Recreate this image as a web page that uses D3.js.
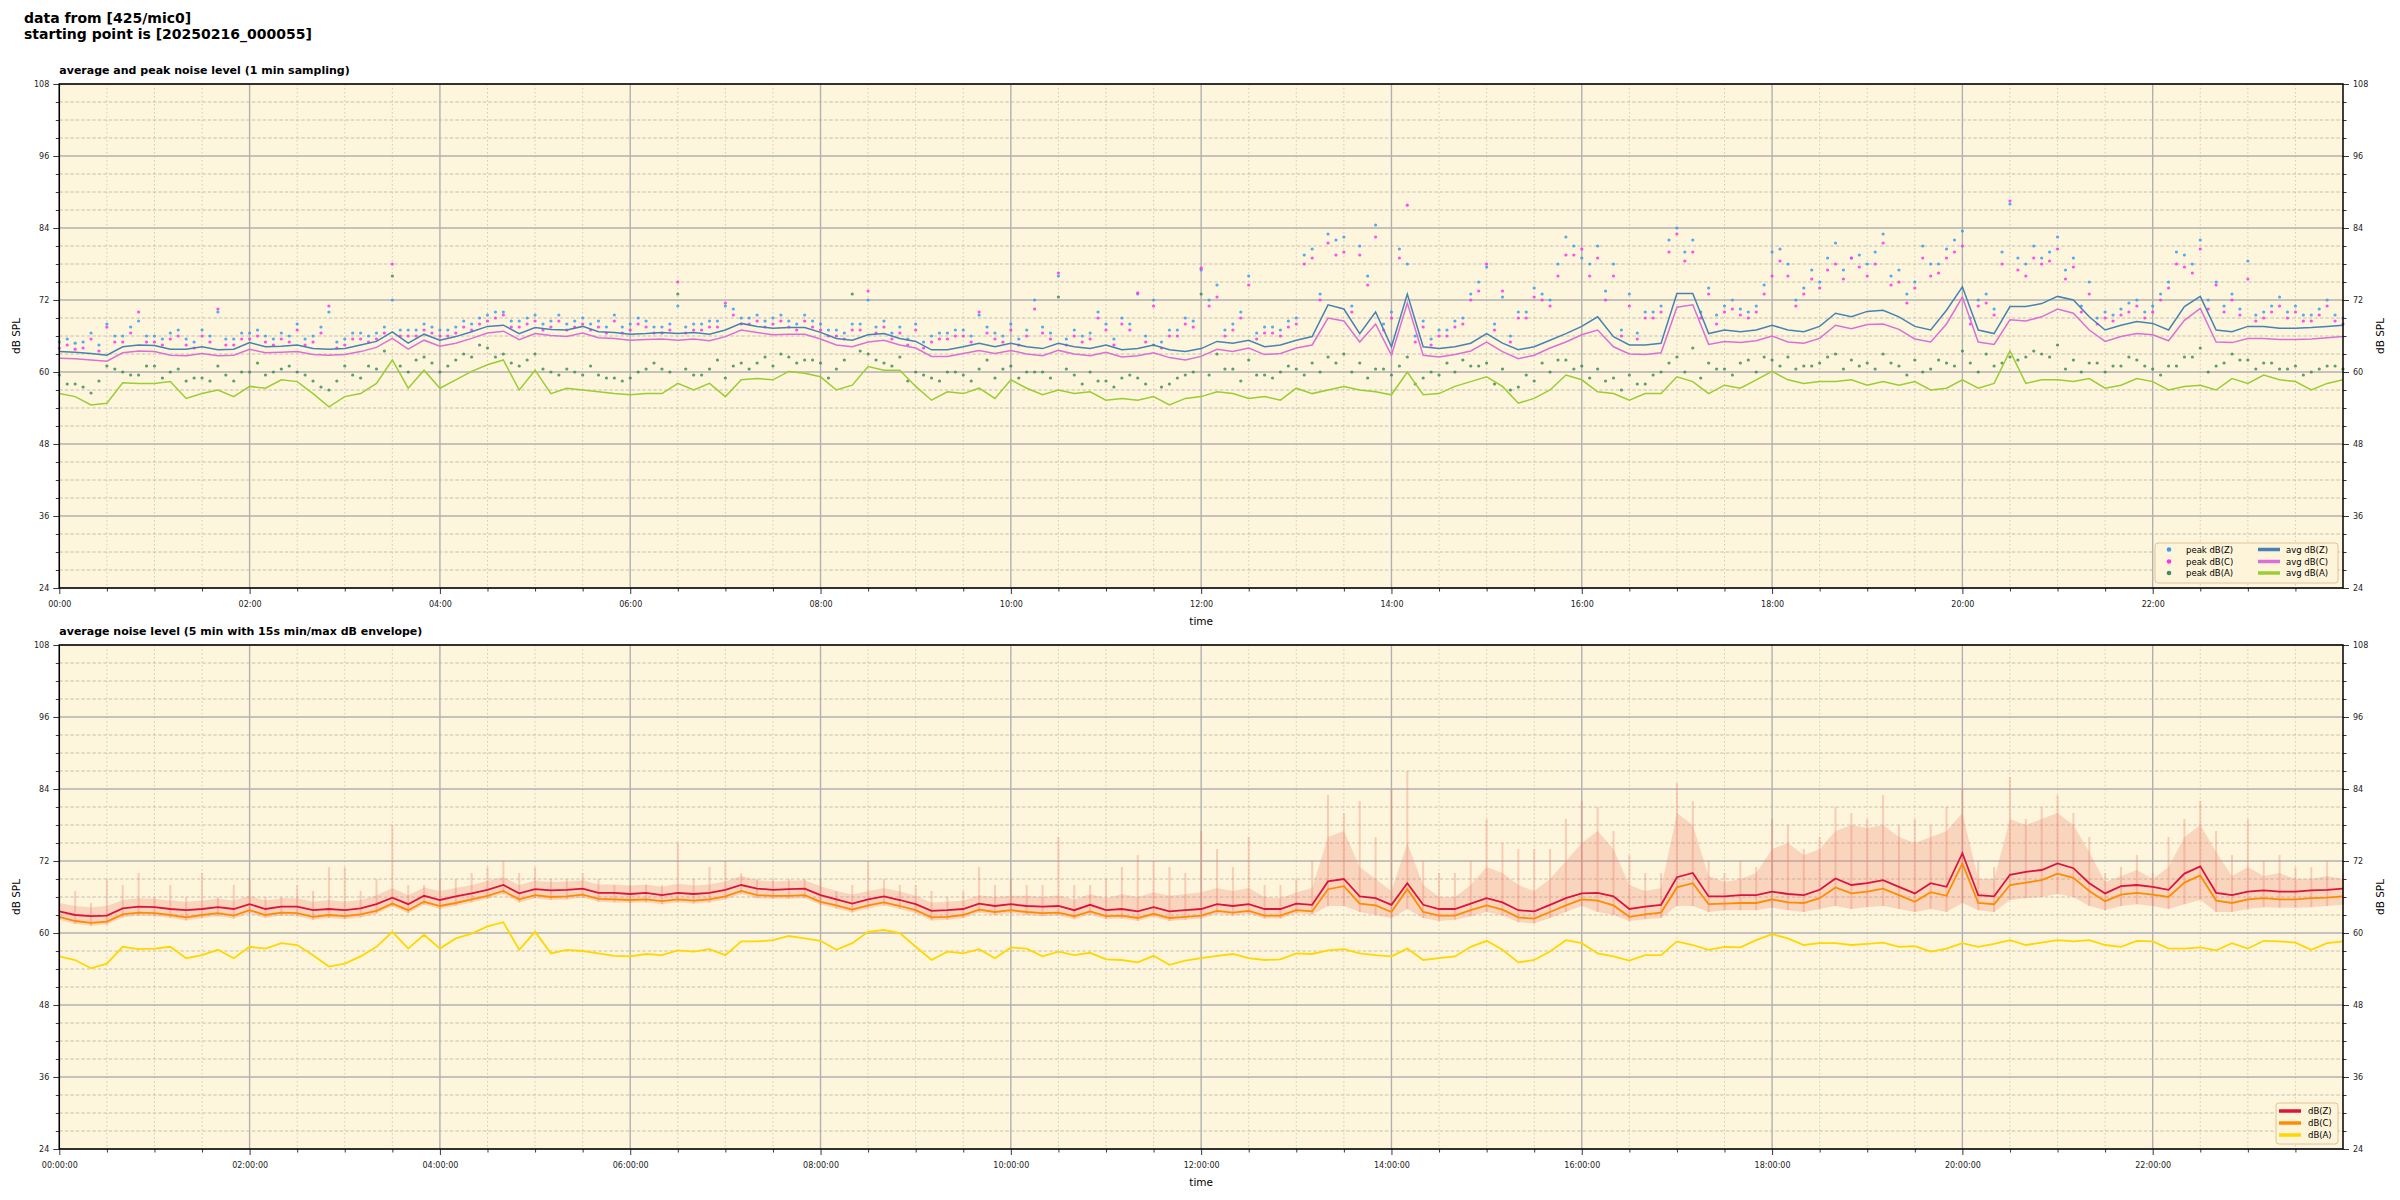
<!DOCTYPE html>
<html><head><meta charset="utf-8">
<script src="https://cdn.jsdelivr.net/npm/d3@7"></script>
<style>
body{margin:0;background:#fff;}
svg text{font-family:"DejaVu Sans",sans-serif;}
</style></head><body>
<svg id="chart" width="2400" height="1200"></svg>
<script>
// ---------------- data (10-minute steps from 2025-02-16 00:00) ----------------
const startTime = Date.UTC(2025, 1, 16, 0, 0, 0);
const stepMinutes = 10;
const xTickHours = [0, 2, 4, 6, 8, 10, 12, 14, 16, 18, 20, 22];
const yMajorTicks = [24, 36, 48, 60, 72, 84, 96, 108];
const seriesNamesTop = ["peak dB(Z)", "peak dB(C)", "peak dB(A)", "avg dB(Z)", "avg dB(C)", "avg dB(A)"];
const seriesNamesBottom = ["dB(Z)", "dB(C)", "dB(A)"];

const topAvgZ = [
63.4,63.3,63.1,62.8,64.2,64.5,64.4,63.8,63.8,64.2,63.7,63.8,64.9,64.2,64.3,64.5,63.9,63.8,63.9,64.5,65.1,66.7,64.8,66.3,65.3,65.9,66.7,67.6,67.8,66.4,67.4,67.1,67.0,67.6,66.7,66.6,66.3,66.4,66.6,66.4,66.6,66.3,67.0,68.1,67.6,67.3,67.4,67.4,66.6,
65.6,65.3,66.2,66.4,65.6,65.1,63.7,63.7,64.2,64.8,64.2,64.8,64.2,63.9,64.8,64.2,63.9,64.5,63.7,63.9,64.5,63.7,63.4,63.9,65.1,64.8,65.3,64.2,64.5,65.3,65.9,71.2,70.5,66.4,70.0,64.2,73.0,64.2,63.9,64.2,64.8,66.4,64.8,63.7,64.2,65.3,66.4,67.6,
69.2,65.9,64.5,64.5,64.8,73.1,73.1,66.4,67.0,66.7,67.0,67.8,67.0,66.7,67.6,69.8,69.2,70.1,70.3,69.2,67.6,67.0,70.3,74.2,67.0,66.4,70.9,70.9,71.4,72.6,72.0,69.2,67.0,67.8,68.4,68.1,67.0,70.9,72.6,67.0,66.7,67.6,67.6,67.3,67.3,67.4,67.6,67.8];
const topAvgC = [
62.3,62.2,62.0,61.8,63.2,63.5,63.4,62.8,62.7,63.1,62.7,62.8,63.8,63.2,63.3,63.4,62.9,62.8,62.9,63.4,64.1,65.6,63.8,65.3,64.3,64.8,65.6,66.5,66.8,65.4,66.4,66.1,65.9,66.5,65.7,65.6,65.3,65.4,65.5,65.3,65.5,65.2,65.9,67.0,66.6,66.2,66.3,66.3,65.5,
64.5,64.2,65.0,65.3,64.5,64.0,62.6,62.6,63.1,63.6,63.1,63.6,63.0,62.7,63.6,63.0,62.7,63.3,62.5,62.7,63.2,62.4,62.0,62.6,63.8,63.4,64.0,62.9,63.1,64.0,64.5,69.0,68.5,65.0,68.0,62.8,71.5,62.8,62.5,62.9,63.5,65.0,63.4,62.2,62.8,64.0,65.0,66.2,
67.0,64.2,63.0,62.9,63.2,70.8,71.2,64.6,65.1,64.9,65.2,66.0,65.0,64.8,65.6,67.8,67.2,67.9,68.0,67.1,65.5,65.0,68.0,72.5,65.0,64.6,68.7,68.5,69.2,70.5,69.8,67.0,65.1,65.9,66.4,66.2,65.2,68.6,70.6,65.0,64.9,65.6,65.6,65.4,65.4,65.5,65.7,65.9];
const topAvgA = [
56.4,55.9,54.5,54.8,58.2,58.1,58.1,58.4,55.6,56.4,57.0,55.9,57.6,57.3,58.7,58.4,56.4,54.2,55.9,56.4,58.1,62.0,57.3,60.3,57.3,58.7,60.1,61.2,62.0,57.0,60.3,56.4,57.3,57.0,56.7,56.4,56.2,56.4,56.4,58.1,57.0,58.1,55.9,58.7,58.9,58.7,60.1,59.8,59.2,
57.0,57.8,60.9,60.3,60.3,57.6,55.3,56.7,56.4,57.3,55.6,58.7,57.3,56.2,57.0,56.4,56.7,55.3,55.6,55.3,55.9,54.5,55.6,55.9,56.7,56.4,55.6,55.9,55.3,57.3,56.4,57.0,57.6,57.0,56.7,56.2,60.0,56.2,56.4,57.6,58.4,59.2,57.6,54.8,55.6,57.0,59.5,58.7,
56.7,56.4,55.3,56.4,56.4,59.2,58.4,56.4,57.8,57.3,58.7,60.1,58.7,58.1,58.4,58.4,58.7,57.8,58.4,57.8,58.4,57.0,57.3,58.7,57.3,58.1,63.5,58.1,58.7,58.7,58.4,58.9,57.3,57.8,58.9,58.4,57.0,57.6,57.8,57.0,58.9,58.1,59.5,58.7,58.4,57.0,58.1,58.7];

// peaks at :00 of each 10-minute step
const topPeakZ = [
65.0,64.8,66.5,68.0,66.0,68.5,66.0,66.5,65.5,67.0,70.0,65.5,66.5,66.0,66.5,68.0,66.0,70.0,65.5,66.5,66.5,72.0,67.0,68.0,67.0,67.5,68.0,69.5,70.0,68.5,69.5,68.5,68.0,69.0,68.5,69.5,68.0,68.5,67.5,71.0,68.0,68.5,71.0,69.0,69.5,69.0,68.5,69.5,68.0,
67.0,68.0,72.0,68.5,67.5,68.0,66.0,66.5,67.0,69.5,66.5,68.0,67.0,67.5,76.0,67.0,66.5,68.0,69.0,73.0,72.0,67.0,69.0,77.0,74.5,68.0,76.0,67.5,67.0,69.0,80.5,83.0,82.5,81.0,84.5,70.0,78.0,68.5,67.0,68.5,73.0,77.5,72.5,70.0,74.0,72.0,82.5,79.0,
81.0,78.0,73.0,70.0,71.0,84.0,82.0,74.0,71.0,70.5,71.0,80.0,78.0,74.0,75.0,81.5,79.0,78.0,83.0,77.0,75.0,78.0,80.5,83.5,72.0,70.5,88.0,78.0,79.0,82.5,79.0,75.0,70.0,70.5,72.0,71.0,75.0,79.5,82.0,75.0,73.0,78.5,70.0,72.5,71.0,69.5,72.0,69.0];
const topPeakC = [
64.0,63.8,65.5,67.5,65.0,70.0,65.0,65.5,64.5,66.0,70.5,64.5,65.5,65.0,65.5,67.0,65.0,71.0,64.5,65.5,65.5,78.0,66.0,67.0,66.0,66.5,67.0,68.5,69.5,67.5,68.5,67.5,67.0,68.0,67.5,68.5,67.0,67.5,66.5,75.0,67.0,67.5,71.5,68.0,68.5,68.0,67.5,68.5,67.0,
66.0,67.0,73.5,67.5,66.5,67.0,65.0,65.5,66.0,70.0,65.5,67.0,66.0,66.5,76.5,66.0,65.5,67.0,68.0,73.2,71.0,66.0,68.0,77.3,72.5,67.0,74.5,66.5,66.0,68.0,79.0,81.5,80.0,79.5,82.5,69.0,87.8,67.5,66.0,67.5,72.0,78.0,73.5,69.0,72.5,71.0,79.5,80.5,
79.0,76.0,71.0,69.0,70.0,83.0,80.0,73.0,70.0,69.5,70.0,76.0,76.0,73.0,74.0,78.0,79.0,76.0,81.5,75.0,74.0,76.0,79.0,81.0,71.0,69.5,88.5,76.0,78.0,80.5,77.5,73.0,69.0,69.5,71.0,70.0,74.0,77.5,80.5,74.5,72.0,75.5,69.0,71.0,70.0,68.5,71.0,68.0];
const topPeakA = [
59.5,58.0,56.5,61.0,60.0,59.5,61.0,60.0,58.5,59.0,61.0,58.5,60.0,59.5,60.5,60.0,58.5,57.0,61.0,59.0,60.5,76.0,60.0,62.5,60.0,62.0,62.5,64.0,63.0,61.0,63.0,60.0,60.5,59.5,59.5,59.0,59.0,60.5,60.5,73.0,59.5,60.5,59.0,61.5,61.5,61.0,62.5,62.0,61.5,
60.5,73.0,63.0,61.5,62.5,60.0,59.0,60.0,59.5,60.5,59.0,61.0,60.0,60.0,72.5,59.5,60.0,58.5,59.0,59.0,64.5,58.0,59.5,73.0,63.0,60.5,62.0,59.5,60.0,60.5,61.5,62.5,63.0,61.5,60.5,59.5,62.5,59.0,59.5,60.0,61.0,61.5,60.5,57.5,58.5,60.0,62.0,61.0,
60.5,59.0,59.5,58.0,60.0,62.5,64.0,61.5,60.5,61.5,60.0,62.0,62.5,61.0,61.5,63.0,62.0,61.5,63.0,61.0,62.0,60.5,61.5,63.5,60.0,61.0,62.5,62.5,63.0,64.5,62.0,61.5,60.0,61.0,62.0,60.5,61.0,62.5,64.0,61.0,63.0,62.0,61.5,60.5,61.0,60.0,61.0,60.5];
// peaks at :05 of each 10-minute step
const topPeakZ5 = [
65.5,65.0,64.5,66.0,67.5,66.0,65.5,67.0,65.0,66.0,65.5,66.5,67.0,65.5,66.0,65.5,67.5,65.0,66.5,66.0,67.5,67.0,67.0,67.5,67.0,68.5,69.0,70.0,68.5,69.0,68.0,69.5,68.5,68.0,67.5,67.5,69.0,67.5,68.0,67.5,68.0,68.5,70.5,69.0,68.5,69.5,68.0,68.5,
67.0,66.5,68.0,67.5,66.5,65.5,65.0,66.5,67.0,66.0,67.5,66.0,65.5,72.0,66.5,65.5,66.0,70.0,65.5,68.0,66.0,65.0,67.0,68.5,72.0,67.0,70.0,66.5,67.5,68.5,79.5,73.0,82.0,71.0,76.0,68.0,80.5,66.0,65.5,67.0,69.0,75.0,68.0,66.0,70.0,73.0,78.0,81.0,
78.0,73.5,67.0,66.5,70.0,82.0,80.0,70.0,69.5,72.0,70.0,74.5,80.5,72.0,77.0,79.0,77.0,79.5,80.0,76.0,73.0,81.0,78.0,82.0,69.0,73.0,80.0,79.0,81.0,80.0,77.0,71.0,69.0,69.5,71.5,70.0,73.0,80.0,78.0,72.0,71.0,70.5,69.5,71.0,70.0,69.5,70.5,69.5];
const topPeakC5 = [
64.5,64.0,63.5,65.0,66.5,65.0,64.5,66.0,64.0,65.0,64.5,65.5,66.0,64.5,65.0,64.5,66.5,64.0,65.5,65.0,66.5,66.0,66.0,66.5,66.0,67.5,68.0,69.0,67.5,68.0,67.0,68.5,67.5,67.0,66.5,66.5,68.0,66.5,67.0,66.5,67.0,67.5,69.5,68.0,67.5,68.5,67.0,67.5,
66.0,65.5,67.0,66.5,65.5,64.5,64.0,65.5,66.0,65.0,66.5,65.0,64.5,70.5,65.5,64.5,65.0,69.0,64.5,67.0,65.0,64.0,66.0,67.5,71.0,66.0,69.0,65.5,66.5,67.5,78.0,72.0,79.5,70.0,74.5,67.0,79.0,65.0,64.5,66.0,68.0,73.5,67.0,65.0,69.0,72.0,76.0,79.5,
76.0,72.0,66.0,65.5,69.0,80.0,78.5,69.0,68.0,70.5,69.0,73.0,78.5,71.0,75.5,77.0,75.5,77.5,78.0,74.5,71.5,79.0,76.5,80.0,68.0,71.5,78.0,77.0,79.0,78.5,75.5,70.0,68.0,68.5,70.0,69.0,72.0,78.0,76.5,70.5,70.0,69.5,68.5,70.0,69.0,68.5,69.5,68.5];
const topPeakA5 = [
58.0,57.5,58.5,60.5,59.5,61.0,59.0,60.5,59.0,58.5,59.5,60.0,61.5,60.0,61.0,59.5,57.5,58.5,59.5,61.0,63.5,61.0,62.0,61.5,61.0,63.0,64.5,62.5,61.5,62.0,60.5,59.5,60.0,61.0,59.0,58.5,60.0,61.5,60.0,60.5,59.5,62.0,61.0,60.5,62.5,63.0,61.5,62.0,
59.0,62.0,63.5,62.0,61.0,58.5,59.5,58.5,60.0,58.5,62.0,60.5,59.0,60.0,59.0,60.5,58.0,58.5,57.5,59.5,58.0,57.5,59.0,60.0,59.5,60.5,58.5,59.5,59.0,61.0,59.5,60.0,61.5,60.0,59.0,60.5,61.0,58.0,60.0,61.5,62.0,61.0,58.0,57.0,59.5,61.5,62.0,60.5,
59.0,58.5,57.0,58.0,59.5,61.5,60.0,59.0,60.5,59.5,62.0,62.5,61.0,60.5,61.0,62.5,60.5,61.0,60.5,61.5,59.5,60.0,62.0,61.0,61.5,63.0,61.5,62.0,63.5,62.5,60.5,60.0,61.5,61.0,62.5,61.0,59.5,61.0,62.5,60.0,61.5,62.0,60.5,61.5,60.5,59.5,60.5,61.0];

const botZ = [
63.6,63.0,62.8,62.9,64.1,64.4,64.3,64.0,63.8,64.0,64.3,64.0,64.8,64.0,64.4,64.4,63.8,64.0,63.8,64.1,64.8,65.9,64.8,66.2,65.5,66.1,66.6,67.2,68.0,66.6,67.3,67.1,67.2,67.4,66.7,66.7,66.5,66.7,66.3,66.7,66.5,66.7,67.2,68.0,67.4,67.2,67.3,67.4,66.3,
65.6,64.9,65.6,66.1,65.5,64.8,63.7,63.8,64.0,64.9,64.5,64.8,64.5,64.4,64.5,63.8,64.7,63.8,64.0,63.6,64.3,63.6,63.8,64.0,64.8,64.5,64.8,64.0,64.0,64.9,64.7,68.6,69.0,66.1,65.8,64.7,68.3,64.7,64.0,64.0,64.9,65.8,65.1,63.8,63.6,64.7,65.8,66.6,
66.7,66.1,64.0,64.4,64.7,69.3,70.0,66.1,66.1,66.3,66.3,66.9,66.5,66.3,67.2,69.1,68.0,68.3,68.8,67.7,66.6,68.3,67.7,73.3,66.3,66.1,69.7,70.2,70.5,71.6,70.8,68.3,66.6,67.8,68.0,67.7,67.2,69.9,71.1,66.7,66.3,66.9,67.1,66.9,66.9,67.1,67.2,67.4];
const botC = [
62.7,62.0,61.7,61.9,63.1,63.4,63.3,63.0,62.6,63.0,63.3,62.9,63.8,63.0,63.4,63.3,62.7,63.0,62.8,63.1,63.7,64.9,63.8,65.2,64.5,65.0,65.6,66.2,67.0,65.6,66.3,66.0,66.1,66.4,65.7,65.6,65.5,65.6,65.3,65.6,65.4,65.6,66.1,67.0,66.3,66.2,66.2,66.3,65.2,
64.6,63.9,64.6,65.1,64.5,63.8,62.6,62.7,63.0,63.9,63.5,63.8,63.5,63.3,63.4,62.8,63.6,62.8,62.9,62.5,63.2,62.5,62.7,62.9,63.7,63.4,63.7,62.9,62.9,63.8,63.6,67.3,67.8,64.9,64.6,63.5,67.3,63.5,62.9,62.9,63.8,64.6,63.9,62.6,62.4,63.5,64.6,65.6,
65.4,64.6,62.7,63.1,63.4,67.6,68.3,64.8,64.9,65.0,65.0,65.6,65.1,65.0,65.8,67.6,66.6,66.9,67.4,66.3,65.2,66.8,66.2,71.6,65.0,64.8,68.0,68.4,68.8,69.9,69.2,67.0,65.3,66.4,66.7,66.4,66.0,68.4,69.6,65.4,65.0,65.6,65.8,65.6,65.6,65.8,65.9,66.1];
const botA = [
56.1,55.5,54.1,54.9,57.7,57.3,57.4,57.7,55.8,56.3,57.2,55.8,57.7,57.4,58.3,58.0,56.3,54.4,54.9,56.1,57.7,60.2,57.4,59.7,57.4,59.1,59.9,61.1,61.8,57.2,60.2,56.6,57.2,57.0,56.6,56.2,56.1,56.5,56.3,57.1,56.9,57.3,56.3,58.6,58.6,58.8,59.5,59.1,58.7,
57.2,58.3,60.2,60.5,60.0,57.7,55.5,56.9,56.6,57.3,55.8,57.6,57.4,56.1,56.9,56.3,56.7,55.6,55.5,55.1,56.2,54.7,55.4,55.8,56.2,56.5,55.8,55.5,55.6,56.6,56.5,57.1,57.3,56.6,56.3,56.1,57.4,55.5,55.8,56.1,57.7,58.7,57.2,55.1,55.5,56.9,58.8,58.3,
56.6,56.1,55.4,56.3,56.3,58.6,58.0,57.2,57.7,57.6,58.8,59.8,59.1,58.0,58.3,58.3,58.0,58.2,58.4,57.7,57.8,56.9,57.4,58.3,57.7,58.2,58.8,58.0,58.4,58.8,58.6,58.8,58.0,57.7,58.7,58.6,57.4,57.4,57.6,57.1,58.3,57.4,58.7,58.6,58.4,57.2,58.3,58.6];
// envelope: spike tops, dense-band top, and lower edge
const envMax = [
66,67,65,69,68,70,66,68,66,70,66,68,69,66,66,68,67,71,71,67,69,78,68,68,69,69,70,71,72,70,71,69,69,70,69,68,68,68,68,75,69,71,72,70,69,69,69,69,69,
67,68,72,69,68,68,67,66,67,71,68,69,68,68,76,68,68,69,71,73,72,71,70,77,74,71,76,68,68,69,72,83,80,82,76,84,87,72,70,70,72,79,75,74,74,74,79,82,
81,77,73,70,70,85,82,72,70,72,71,79,78,74,76,81,80,79,83,78,79,78,81,84,72,71,86,79,81,83,80,76,70,71,73,70,76,79,82,77,73,79,72,73,71,71,72,70];
const envBand = [
65.0,64.5,64.3,64.5,65.5,65.8,65.7,65.4,65.2,65.4,65.7,65.4,66.2,65.4,65.8,65.8,65.2,65.5,65.2,65.5,66.3,67.5,66.3,67.6,67.0,67.5,68.0,68.7,69.3,68.0,68.7,68.5,68.6,68.8,68.1,68.1,67.9,68.1,67.7,68.2,67.9,68.1,68.6,69.5,68.8,68.6,68.7,68.8,67.8,
67.0,66.4,67.0,67.5,66.9,66.2,65.1,65.2,65.4,66.3,66.0,66.2,66.2,66.0,66.3,65.6,66.5,65.8,66.5,66.0,66.8,66.2,66.5,66.8,67.5,67.0,67.5,66.0,65.8,66.8,67.5,76.0,77.0,71.0,69.0,67.0,75.0,68.0,66.0,66.0,68.0,71.0,70.0,68.0,67.0,69.0,72.0,75.0,
77.0,74.0,68.0,67.0,67.5,80.0,78.0,69.5,68.5,69.0,70.0,74.0,75.0,73.0,74.0,77.0,78.0,77.5,78.0,76.0,75.0,76.0,77.0,80.0,69.0,69.0,79.0,78.0,79.0,80.0,78.0,73.5,68.5,69.5,70.5,69.0,71.0,76.0,78.0,73.5,69.5,71.0,69.5,70.0,69.0,69.0,69.5,69.0];
const envMin = [
62.2,61.5,61.2,61.4,62.6,62.9,62.8,62.5,62.1,62.5,62.8,62.4,63.3,62.5,62.9,62.8,62.2,62.5,62.3,62.6,63.2,64.4,63.3,64.7,64.0,64.5,65.1,65.7,66.5,65.1,65.8,65.5,65.6,65.9,65.2,65.1,65.0,65.1,64.8,65.1,64.9,65.1,65.6,66.5,65.8,65.7,65.7,65.8,64.7,
64.1,63.4,64.1,64.6,64.0,63.3,62.1,62.2,62.5,63.4,63.0,63.3,63.0,62.8,62.9,62.3,63.1,62.3,62.4,62.0,62.7,62.0,62.2,62.4,63.2,62.9,63.2,62.4,62.4,63.3,63.1,64.5,64.5,63.5,63.0,62.5,64.0,62.5,62.0,62.2,62.8,63.5,62.9,61.8,61.6,62.5,63.5,64.5,
63.5,63.0,62.0,62.3,62.5,64.5,64.5,63.5,63.8,63.8,63.8,64.2,63.8,63.5,64.0,64.5,64.0,64.3,64.5,64.0,63.5,64.0,63.5,65.0,63.8,63.5,65.5,65.8,66.0,66.5,66.0,64.5,63.8,64.5,64.8,64.5,64.0,64.8,65.5,63.5,63.5,64.0,64.3,64.2,64.2,64.3,64.5,64.7];

// ---------------- drawing ----------------
const svg = d3.select("#chart");
const left = 59.3, right = 2343;
const timeOf = (i, off = 0) => new Date(startTime + (i * stepMinutes + off) * 60000);
const xDomain = [new Date(startTime), new Date(startTime + 24 * 3600000)];
const toPts = (arr, off = 0) => arr.map((v, i) => ({t: timeOf(i, off), v}));

svg.append("text").attr("x", 24).attr("y", 23).attr("font-size", 14).attr("font-weight", "bold").text("data from [425/mic0]");
svg.append("text").attr("x", 24).attr("y", 39).attr("font-size", 14).attr("font-weight", "bold").text("starting point is [20250216_000055]");

function panel(top, bottom, title, fmt) {
  const x = d3.scaleUtc().domain(xDomain).range([left, right]);
  const y = d3.scaleLinear().domain([24, 108]).range([bottom, top]);
  const g = svg.append("g");
  g.append("rect").attr("x", left).attr("y", top).attr("width", right - left).attr("height", bottom - top).attr("fill", "#fef6dc");
  const minorY = d3.range(24, 109, 3).filter(v => v % 12 !== 0);
  const minorX = d3.range(0, 24, 0.5).filter(h => h % 2 !== 0).map(h => new Date(startTime + h * 3600000));
  const majorX = xTickHours.map(h => new Date(startTime + h * 3600000));
  g.selectAll(".mx").data(minorX).join("line").attr("x1", d => x(d)).attr("x2", d => x(d)).attr("y1", top).attr("y2", bottom)
    .attr("stroke", "#cfc7b4").attr("stroke-width", 0.9).attr("stroke-dasharray", "1.5,2.5");
  g.selectAll(".my").data(minorY).join("line").attr("x1", left).attr("x2", right).attr("y1", d => y(d)).attr("y2", d => y(d))
    .attr("stroke", "#bdb8aa").attr("stroke-width", 0.9).attr("stroke-dasharray", "3.5,2");
  g.selectAll(".Mx").data(majorX).join("line").attr("x1", d => x(d)).attr("x2", d => x(d)).attr("y1", top).attr("y2", bottom)
    .attr("stroke", "#b0b0b0").attr("stroke-width", 1.4);
  g.selectAll(".My").data(yMajorTicks).join("line").attr("x1", left).attr("x2", right).attr("y1", d => y(d)).attr("y2", d => y(d))
    .attr("stroke", "#b0b0b0").attr("stroke-width", 1.6);
  const fs = 8;
  const axL = d3.axisLeft(y).tickValues(yMajorTicks).tickSize(6).tickPadding(4);
  const axR = d3.axisRight(y).tickValues(yMajorTicks).tickSize(6).tickPadding(4);
  const axB = d3.axisBottom(x).tickValues(majorX).tickFormat(d3.utcFormat(fmt)).tickSize(6).tickPadding(7);
  const gl = svg.append("g").attr("transform", `translate(${left},0)`).call(axL);
  const gr = svg.append("g").attr("transform", `translate(${right},0)`).call(axR);
  const gb = svg.append("g").attr("transform", `translate(0,${bottom})`).call(axB);
  svg.append("g").attr("transform", `translate(${left},0)`).call(d3.axisLeft(y).tickValues(minorY).tickSize(3.5).tickFormat(""));
  svg.append("g").attr("transform", `translate(${right},0)`).call(d3.axisRight(y).tickValues(minorY).tickSize(3.5).tickFormat(""));
  svg.append("g").attr("transform", `translate(0,${bottom})`).call(d3.axisBottom(x).tickValues(minorX).tickSize(3.5).tickFormat(""));
  svg.selectAll(".domain").remove();
  [gl, gr, gb].forEach(a => a.selectAll("text").attr("font-size", fs).attr("fill", "#222"));
  svg.selectAll(".tick line").attr("stroke", "#222").attr("stroke-width", 0.9);
  svg.append("text").attr("transform", `translate(20,${(top + bottom) / 2}) rotate(-90)`).attr("text-anchor", "middle").attr("font-size", 10.5).text("dB SPL");
  svg.append("text").attr("transform", `translate(2384,${(top + bottom) / 2}) rotate(-90)`).attr("text-anchor", "middle").attr("font-size", 10.5).text("dB SPL");
  svg.append("text").attr("x", (left + right) / 2).attr("y", bottom + 37).attr("text-anchor", "middle").attr("font-size", 10.5).text("time");
  svg.append("text").attr("x", left).attr("y", top - 10).attr("font-size", 11).attr("font-weight", "bold").text(title);
  const plot = svg.append("g");
  return {x, y, plot, frame: () => svg.append("rect").attr("x", left).attr("y", top).attr("width", right - left).attr("height", bottom - top).attr("fill", "none").attr("stroke", "#000").attr("stroke-width", 1.5)};
}

// top panel
const P1 = panel(84, 588, "average and peak noise level (1 min sampling)", "%H:%M");
{
  const {x, y, plot} = P1;
  const dots = (arr, off, col) => plot.append("g").selectAll("circle").data(toPts(arr, off)).join("circle")
    .attr("cx", d => x(d.t)).attr("cy", d => y(d.v)).attr("r", 1.6).attr("fill", col).attr("opacity", 0.85);
  dots(topPeakZ, 0, "#3a9cf5"); dots(topPeakZ5, 5, "#3a9cf5");
  dots(topPeakC, 0, "#ff33ee"); dots(topPeakC5, 5, "#ff33ee");
  dots(topPeakA, 0, "#3d8f5a"); dots(topPeakA5, 5, "#3d8f5a");
  const line = d3.line().x(d => x(d.t)).y(d => y(d.v));
  const path = (arr, col) => plot.append("path").datum(toPts(arr)).attr("d", line).attr("fill", "none").attr("stroke", col).attr("stroke-width", 1.5);
  path(topAvgZ, "#4682b4");
  path(topAvgC, "#da70d6");
  path(topAvgA, "#9acd32");
  P1.frame();
  const lg = svg.append("g");
  lg.append("rect").attr("x", 2155).attr("y", 543).attr("width", 183).attr("height", 40).attr("rx", 3)
    .attr("fill", "#fdf4da").attr("stroke", "#e0c497").attr("stroke-width", 1);
  const rows = [549.5, 561.5, 573];
  const dotCols = ["#3a9cf5", "#ff33ee", "#3d8f5a"], lineCols = ["#4682b4", "#da70d6", "#9acd32"];
  rows.forEach((ry, k) => {
    lg.append("circle").attr("cx", 2169).attr("cy", ry).attr("r", 2.3).attr("fill", dotCols[k]);
    lg.append("text").attr("x", 2186).attr("y", ry + 3).attr("font-size", 8.5).text(seriesNamesTop[k]);
    lg.append("line").attr("x1", 2258).attr("x2", 2280).attr("y1", ry).attr("y2", ry).attr("stroke", lineCols[k]).attr("stroke-width", 3.5);
    lg.append("text").attr("x", 2286).attr("y", ry + 3).attr("font-size", 8.5).text(seriesNamesTop[k + 3]);
  });
}

// bottom panel
const P2 = panel(645, 1149, "average noise level (5 min with 15s min/max dB envelope)", "%H:%M:%S");
{
  const {x, y, plot} = P2;
  const env = envBand.map((v, i) => ({t: timeOf(i), hi: v, lo: envMin[i], top: envMax[i]}));
  plot.append("path").datum(env).attr("d", d3.area().x(d => x(d.t)).y0(d => y(d.lo)).y1(d => y(d.hi)))
    .attr("fill", "#f08070").attr("opacity", 0.28);
  plot.append("g").selectAll("line").data(env).join("line")
    .attr("x1", d => x(d.t)).attr("x2", d => x(d.t)).attr("y1", d => y(d.lo)).attr("y2", d => y(d.top))
    .attr("stroke", "#f08070").attr("stroke-width", 2).attr("opacity", 0.35);
  const line = d3.line().x(d => x(d.t)).y(d => y(d.v));
  const path = (arr, col) => plot.append("path").datum(toPts(arr)).attr("d", line).attr("fill", "none").attr("stroke", col).attr("stroke-width", 1.8);
  path(botZ, "#dc143c");
  path(botC, "#ff8c00");
  path(botA, "#ffd700");
  P2.frame();
  const lg = svg.append("g");
  lg.append("rect").attr("x", 2276).attr("y", 1103).attr("width", 62).attr("height", 41).attr("rx", 3)
    .attr("fill", "#fdf4da").attr("stroke", "#e0c497").attr("stroke-width", 1);
  const rows = [1111, 1123, 1135];
  const cols = ["#dc143c", "#ff8c00", "#ffd700"];
  rows.forEach((ry, k) => {
    lg.append("line").attr("x1", 2279).attr("x2", 2301).attr("y1", ry).attr("y2", ry).attr("stroke", cols[k]).attr("stroke-width", 3.5);
    lg.append("text").attr("x", 2308).attr("y", ry + 3).attr("font-size", 8.5).text(seriesNamesBottom[k]);
  });
}
</script>
</body></html>
